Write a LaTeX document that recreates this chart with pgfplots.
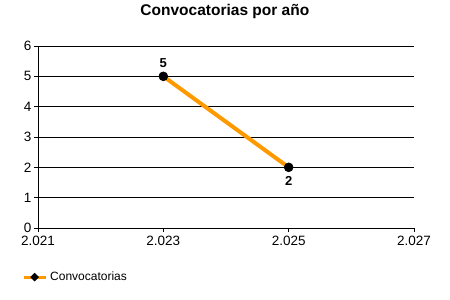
\documentclass[border=0pt]{standalone}
\usepackage{fontspec}
\setmainfont{Liberation Sans}
\usepackage{pgfplots}
\usepackage{pgfplotstable}
\pgfplotsset{compat=1.18}
\definecolor{lineorange}{RGB}{255,153,0}
\pgfplotstableread{
x y
2023 5
2025 2
}\convdata
\begin{document}
\begin{tikzpicture}
\begin{axis}[
  at={(0,0)}, anchor=south west,
  scale only axis, width=376pt, height=182pt,
  xmin=2021, xmax=2027, ymin=0, ymax=6,
  xtick={2021,2023,2025,2027},
  xticklabels={2.021,2.023,2.025,2.027},
  ytick={0,1,2,3,4,5,6},
  axis x line*=bottom, axis y line*=left,
  axis line style={black, line width=0.8pt},
  tick align=outside, major tick length=4pt,
  tick style={black, line width=0.8pt},
  ymajorgrids, grid style={black, line width=0.8pt},
  /pgf/number format/assume math mode=true,
  tick label style={font=\fontsize{13.5}{15}\selectfont},
  yticklabel style={xshift=1pt},
  xticklabel style={yshift=-1pt},
  title={\textbf{Convocatorias por año}},
  title style={at={(0.497,1.154)}, anchor=center, font=\fontsize{15.5}{18}\selectfont},
  legend style={draw=none, fill=none, at={(-0.043,-0.27)}, anchor=west, font=\fontsize{12}{14}\selectfont, inner sep=0pt, nodes={inner xsep=3pt}},
  legend image code/.code={
    \draw[lineorange, line width=3pt] (0cm,0cm) -- (0.78cm,0cm);
    \fill[black] (0.39cm,0cm) circle (1.5pt);
  },
  clip=false,
]
\addplot[lineorange, line width=4pt, mark=*, mark size=4.5pt,
  mark options={solid, draw=black, fill=black, line width=0.5pt},
] table[x=x, y=y] {\convdata};
\addlegendentry{Convocatorias}
\addplot[forget plot, draw=none, mark=none, point meta=y,
  nodes near coords={\textbf{\pgfmathprintnumber{\pgfplotspointmeta}}},
  nodes near coords style={anchor=south, font=\fontsize{13}{15}\selectfont, black, inner sep=0pt, yshift=8.5pt},
] coordinates {(2023,5)};
\addplot[forget plot, draw=none, mark=none, point meta=y,
  nodes near coords={\textbf{\pgfmathprintnumber{\pgfplotspointmeta}}},
  nodes near coords style={anchor=north, font=\fontsize{13}{15}\selectfont, black, inner sep=0pt, yshift=-9pt},
] coordinates {(2025,2)};
\end{axis}
\path[use as bounding box] (-38pt,-72pt) rectangle (412pt,228pt);
\end{tikzpicture}
\end{document}
